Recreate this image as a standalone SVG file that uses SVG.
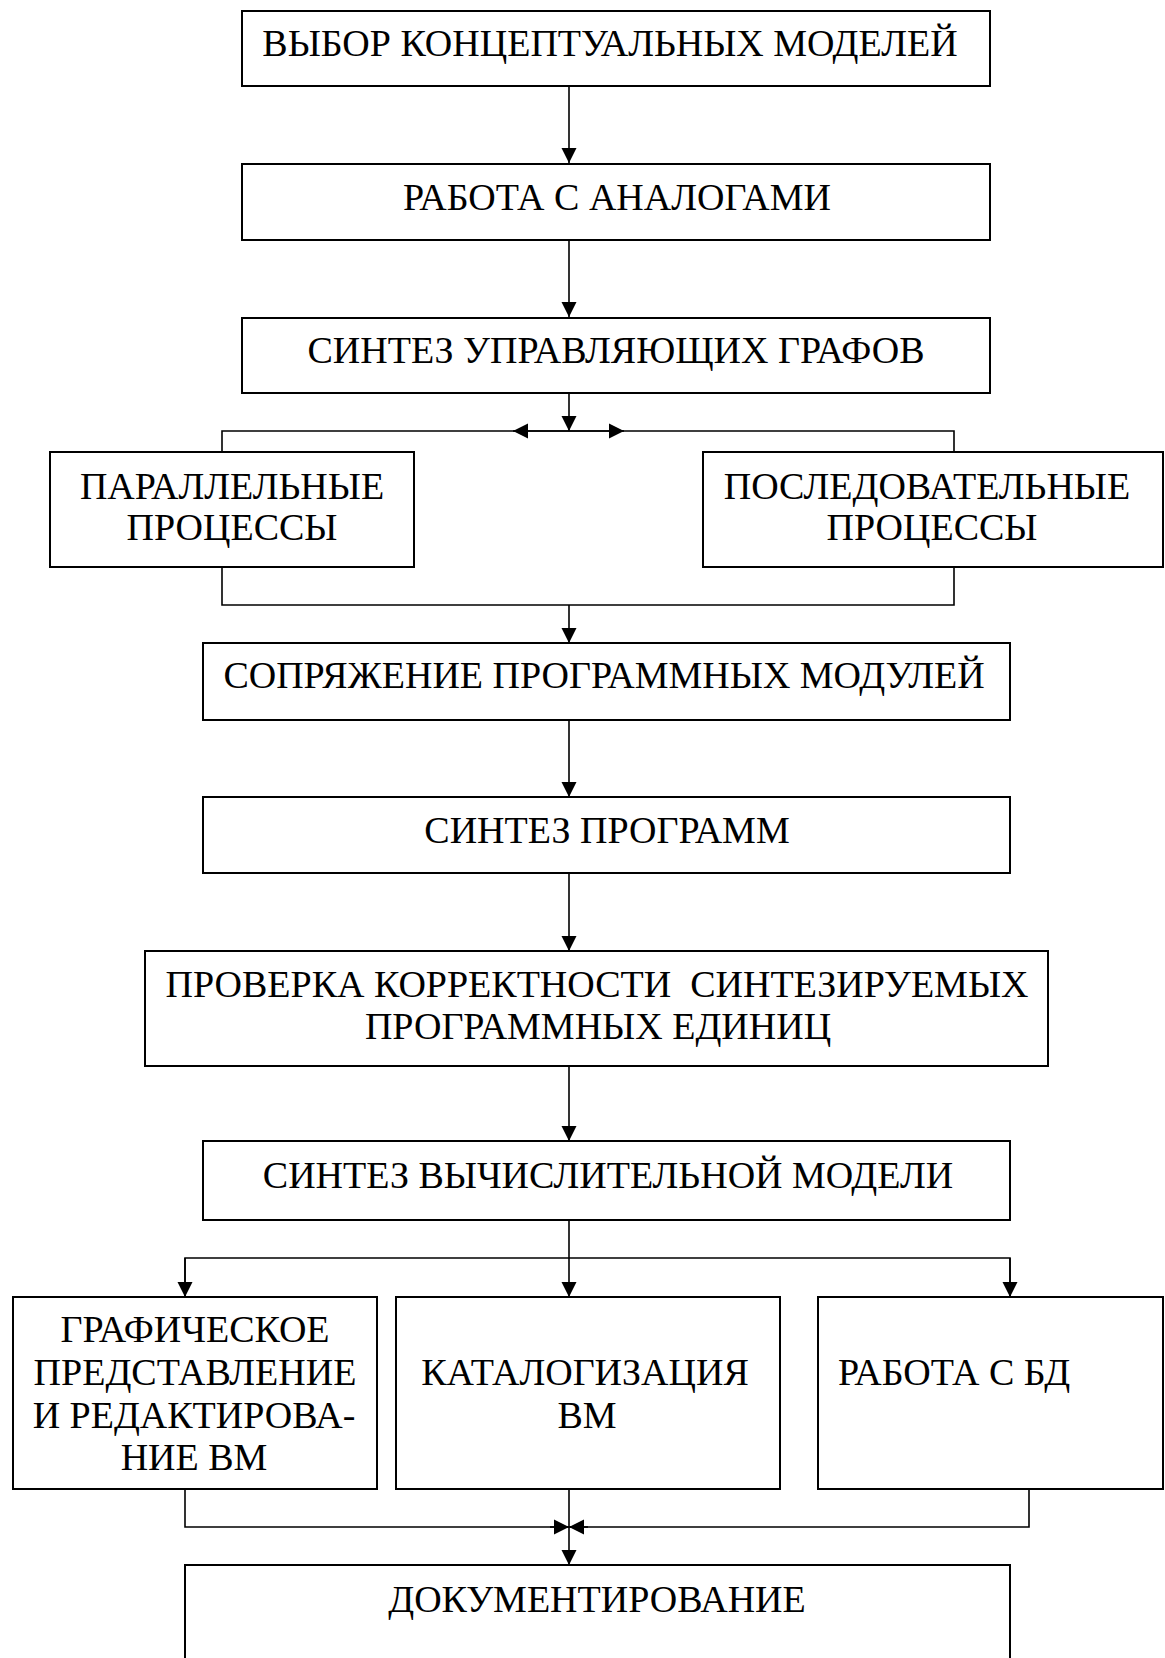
<svg xmlns="http://www.w3.org/2000/svg" width="1165" height="1658" viewBox="0 0 1165 1658">
<defs>
<marker id="ah" markerUnits="userSpaceOnUse" markerWidth="16" markerHeight="16" viewBox="0 0 16 16" refX="15" refY="8" orient="auto">
<path d="M0,0.5 L15,8 L0,15.5 Z" fill="#000"/>
</marker>
<style>
.box{fill:#fff;stroke:#000;stroke-width:2}
.t{font-family:"Liberation Serif","Times New Roman",serif;font-size:38px;fill:#000;text-anchor:middle}
.ts{font-family:"Liberation Serif","Times New Roman",serif;font-size:38px;fill:#000;text-anchor:start}
.c{fill:none;stroke:#000;stroke-width:1.6}
</style>
</defs>
<rect width="1165" height="1658" fill="#fff"/>
<g id="connectors">
<line class="c" x1="569" y1="86" x2="569" y2="163" marker-end="url(#ah)"/>
<line class="c" x1="569" y1="240" x2="569" y2="317" marker-end="url(#ah)"/>
<line class="c" x1="569" y1="393" x2="569" y2="431" marker-end="url(#ah)"/>
<polyline class="c" points="222,452 222,431 954,431 954,452"/>
<line class="c" x1="569" y1="431" x2="513" y2="431" marker-end="url(#ah)"/>
<line class="c" x1="569" y1="431" x2="624" y2="431" marker-end="url(#ah)"/>
<polyline class="c" points="222,567 222,605 954,605 954,567"/>
<line class="c" x1="569" y1="605" x2="569" y2="643" marker-end="url(#ah)"/>
<line class="c" x1="569" y1="720" x2="569" y2="797" marker-end="url(#ah)"/>
<line class="c" x1="569" y1="873" x2="569" y2="951" marker-end="url(#ah)"/>
<line class="c" x1="569" y1="1066" x2="569" y2="1141" marker-end="url(#ah)"/>
<line class="c" x1="569" y1="1220" x2="569" y2="1297" marker-end="url(#ah)"/>
<polyline class="c" points="185,1297 185,1258 1010,1258 1010,1297"/>
<line class="c" x1="185" y1="1258" x2="185" y2="1297" marker-end="url(#ah)"/>
<line class="c" x1="1010" y1="1258" x2="1010" y2="1297" marker-end="url(#ah)"/>
<polyline class="c" points="185,1489 185,1527 1029,1527 1029,1489"/>
<line class="c" x1="550" y1="1527" x2="569" y2="1527" marker-end="url(#ah)"/>
<line class="c" x1="588" y1="1527" x2="569" y2="1527" marker-end="url(#ah)"/>
<line class="c" x1="569" y1="1489" x2="569" y2="1565" marker-end="url(#ah)"/>
</g>
<g id="n1"><rect class="box" x="242" y="11" width="748" height="75"/><text class="t" x="610" y="56">ВЫБОР КОНЦЕПТУАЛЬНЫХ МОДЕЛЕЙ</text></g>
<g id="n2"><rect class="box" x="242" y="164" width="748" height="76"/><text class="t" x="617" y="210">РАБОТА С АНАЛОГАМИ</text></g>
<g id="n3"><rect class="box" x="242" y="318" width="748" height="75"/><text class="t" x="616" y="363">СИНТЕЗ УПРАВЛЯЮЩИХ ГРАФОВ</text></g>
<g id="n4"><rect class="box" x="50" y="452" width="364" height="115"/><text class="t" x="232" y="499">ПАРАЛЛЕЛЬНЫЕ</text><text class="t" x="232" y="540">ПРОЦЕССЫ</text></g>
<g id="n5"><rect class="box" x="703" y="452" width="460" height="115"/><text class="t" x="927" y="499">ПОСЛЕДОВАТЕЛЬНЫЕ</text><text class="t" x="932" y="540">ПРОЦЕССЫ</text></g>
<g id="n6"><rect class="box" x="203" y="643" width="807" height="77"/><text class="t" x="604" y="688">СОПРЯЖЕНИЕ ПРОГРАММНЫХ МОДУЛЕЙ</text></g>
<g id="n7"><rect class="box" x="203" y="797" width="807" height="76"/><text class="t" x="607" y="843">СИНТЕЗ ПРОГРАММ</text></g>
<g id="n8"><rect class="box" x="145" y="951" width="903" height="115"/><text class="t" x="597" y="997" xml:space="preserve">ПРОВЕРКА КОРРЕКТНОСТИ  СИНТЕЗИРУЕМЫХ</text><text class="t" x="598" y="1039">ПРОГРАММНЫХ ЕДИНИЦ</text></g>
<g id="n9"><rect class="box" x="203" y="1141" width="807" height="79"/><text class="t" x="608" y="1188">СИНТЕЗ ВЫЧИСЛИТЕЛЬНОЙ МОДЕЛИ</text></g>
<g id="n10"><rect class="box" x="13" y="1297" width="364" height="192"/><text class="t" x="195" y="1342">ГРАФИЧЕСКОЕ</text><text class="t" x="195" y="1385">ПРЕДСТАВЛЕНИЕ</text><text class="t" x="194" y="1428">И РЕДАКТИРОВА-</text><text class="t" x="194" y="1470">НИЕ ВМ</text></g>
<g id="n11"><rect class="box" x="396" y="1297" width="384" height="192"/><text class="t" x="585" y="1385">КАТАЛОГИЗАЦИЯ</text><text class="t" x="587" y="1428">ВМ</text></g>
<g id="n12"><rect class="box" x="818" y="1297" width="345" height="192"/><text class="ts" x="838" y="1385">РАБОТА С БД</text></g>
<g id="n13"><rect class="box" x="185" y="1565" width="825" height="130"/><text class="t" x="597" y="1612">ДОКУМЕНТИРОВАНИЕ</text></g>
</svg>
